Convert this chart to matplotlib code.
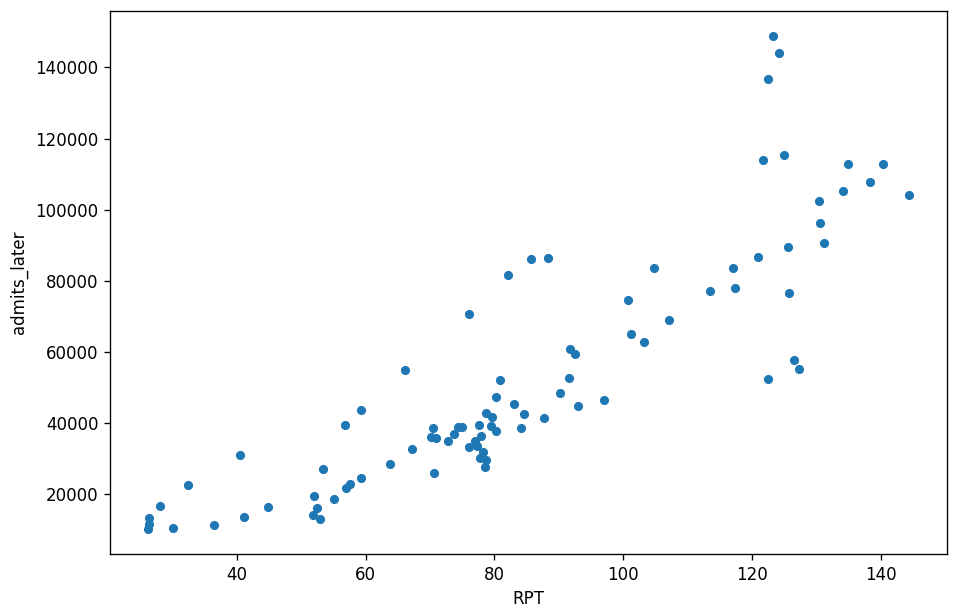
import numpy as np
import pandas as pd
import matplotlib
matplotlib.use('Agg')
import matplotlib.pyplot as plt

# values
rpt = [26.3, 26.3, 26.2, 28.1, 30.1, 32.4, 36.4, 40.5, 41.1, 44.9,
       52.0, 52.4, 51.9, 52.9, 53.4, 55.1, 56.9, 57.5, 59.3, 56.8,
       59.3, 66.1, 63.8, 67.2, 70.6, 70.5, 70.2, 71.0, 72.8, 73.8,
       74.4, 74.9, 76.0, 77.0, 77.6, 77.9, 77.3, 78.2, 77.7, 78.7,
       78.6, 78.7, 79.6, 79.5, 80.3, 80.3, 80.9, 83.1, 84.6, 84.1,
       87.7, 90.2, 91.6, 91.8, 92.5, 93.0, 97.0, 76.1, 82.1, 85.7,
       88.3, 100.8, 101.2, 103.2, 104.8, 107.1, 113.5, 117.1, 117.4, 121.0,
       122.5, 126.5, 127.3, 125.8, 125.6, 131.2, 130.6, 130.4, 134.1, 138.3,
       144.4, 134.9, 140.4, 121.7, 125.0, 122.5, 123.3, 124.2]
admits_later = [13270, 11590, 10190, 16830, 10660, 22720, 11500, 31130, 13750, 16550,
                19640, 16070, 14250, 13130, 27210, 18790, 21770, 23000, 24680, 39540,
                43750, 54970, 28610, 32620, 26080, 38700, 36180, 35900, 35060, 36960,
                39010, 39010, 33370, 35140, 39570, 36460, 33600, 31970, 30370, 29620,
                27710, 42990, 41790, 39290, 37860, 47400, 52160, 45430, 42630, 38700,
                41510, 48520, 52720, 60940, 59540, 44870, 46550, 70670, 81600, 86090,
                86370, 74590, 65060, 62820, 83570, 68990, 77120, 83570, 77960, 86740,
                52440, 57770, 55250, 76560, 89460, 90580, 96180, 102350, 105150, 107680,
                104030, 112950, 112950, 114070, 115250, 136840, 148900, 144130]

df = pd.DataFrame({'RPT': rpt, 'admits_later': admits_later})

fig = plt.figure(figsize=(959 / 120, 615 / 120), dpi=120)
ax = fig.add_axes([110 / 959, 61 / 615, 837 / 959, 543 / 615])
df.plot.scatter(x='RPT', y='admits_later', ax=ax)

fig.savefig('out.png', dpi=120)
